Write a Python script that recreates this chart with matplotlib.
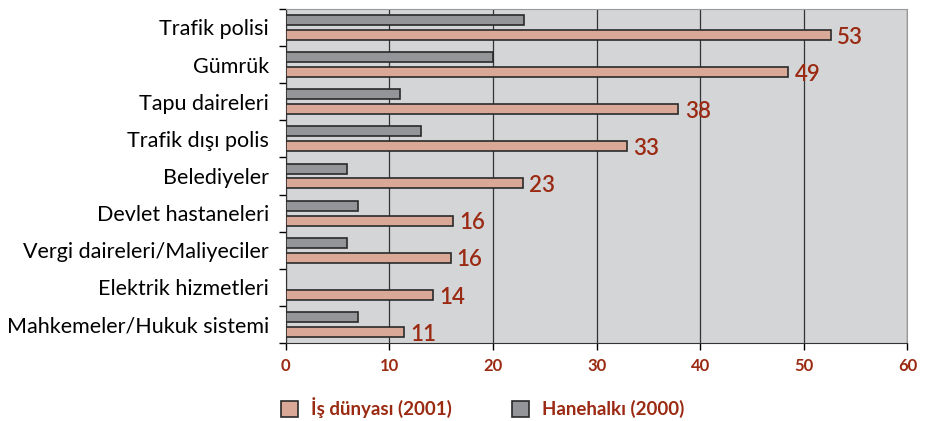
import numpy as np
import matplotlib.pyplot as plt

# Veriler
kurumlar = ['Trafik polisi', 'Gümrük', 'Tapu daireleri', 'Trafik dışı polis',
            'Belediyeler', 'Devlet hastaneleri', 'Vergi daireleri/Maliyeciler',
            'Elektrik hizmetleri', 'Mahkemeler/Hukuk sistemi']
is_dunyasi = [52.6, 48.5, 37.9, 32.9, 22.9, 16.1, 15.9, 14.2, 11.4]
is_etiket = ['53', '49', '38', '33', '23', '16', '16', '14', '11']
hanehalki = [23.0, 20.0, 11.0, 13.0, 5.9, 7.0, 5.9, 0, 7.0]
x_ticks = [0, 10, 20, 30, 40, 50, 60]

koyu_kirmizi = '#9b2a12'
gri = '#939598'
somon = '#d9a896'
arka = '#d4d5d7'

plt.rcParams['font.family'] = ['Lato', 'DejaVu Sans']

fig = plt.figure(figsize=(9.25, 4.21), dpi=100)
ax = fig.add_axes([0.309, 0.185, 0.672, 0.794])
ax.set_facecolor(arka)

y = np.arange(len(kurumlar))
h = 0.27
ax.barh(y - 0.2, hanehalki, height=h, color=gri, edgecolor='#2a2a2a',
        linewidth=1.2, label='Hanehalkı (2000)', zorder=3)
ax.barh(y + 0.2, is_dunyasi, height=h, color=somon, edgecolor='#2a2a2a',
        linewidth=1.2, label='İş dünyası (2001)', zorder=3)

# değer etiketleri
for yi, v, t in zip(y, is_dunyasi, is_etiket):
    ax.text(v + 0.6, yi + 0.26, t, va='center', ha='left', fontsize=16,
            color=koyu_kirmizi, fontweight='semibold')

ax.set_xlim(0, 60)
ax.set_ylim(len(kurumlar) - 0.5, -0.5)
ax.set_xticks(x_ticks)
ax.set_xticklabels([str(t) for t in x_ticks], color=koyu_kirmizi,
                   fontsize=12, fontweight='bold')
ax.set_yticks(y)
ax.set_yticklabels(kurumlar, fontsize=15.5)
ax.tick_params(axis='y', length=0, pad=12)
ax.set_yticks(np.arange(len(kurumlar) + 1) - 0.5, minor=True)
ax.tick_params(axis='y', which='minor', length=5, width=1, direction='out')
ax.tick_params(axis='x', length=5, width=1, direction='out', pad=6)

ax.grid(axis='x', color='#333333', linewidth=0.9, zorder=1)
for s in ['top', 'right']:
    ax.spines[s].set_color('#9a9a9a')
for s in ['left', 'bottom']:
    ax.spines[s].set_color('#333333')

handles, labels = ax.get_legend_handles_labels()
leg = fig.legend(handles[::-1], labels[::-1], loc='center',
                 bbox_to_anchor=(0.522, 0.031), ncol=2, frameon=False,
                 fontsize=13.5, handlelength=0.9, handleheight=0.9,
                 columnspacing=3.2, handletextpad=0.7)
for t in leg.get_texts():
    t.set_color(koyu_kirmizi)
    t.set_fontweight('bold')

fig.savefig('out.png', dpi=100)
